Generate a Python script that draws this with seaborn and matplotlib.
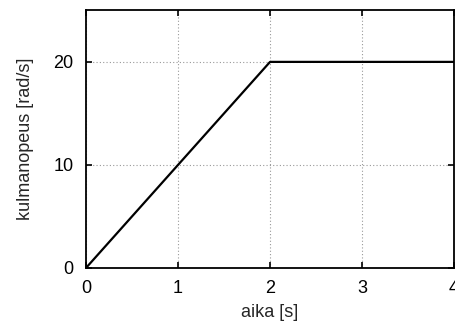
import pandas as pd
from matplotlib import pyplot as plt
import seaborn as sns

# data
aika = [0, 2, 4]
kulmanopeus = [0, 20, 20]
x_ticks = [0, 1, 2, 3, 4]
y_ticks = [0, 10, 20]

df = pd.DataFrame({"aika": aika, "kulmanopeus": kulmanopeus})

sns.set_style("ticks")
plt.rcParams['font.family'] = ['Liberation Sans', 'DejaVu Sans']

fig = plt.figure(figsize=(4.55, 3.24), dpi=100)
ax = fig.add_axes([0.189, 0.173, 0.809, 0.795])

sns.lineplot(x="aika", y="kulmanopeus", data=df, ax=ax, color="black", linewidth=1.6)

ax.set_xlim(0, 4)
ax.set_ylim(0, 25)
ax.set_xticks(x_ticks)
ax.set_yticks(y_ticks)
ax.grid(True, color="#999999", linestyle=(0, (1, 2)), linewidth=0.8)
ax.tick_params(direction="in", length=4, width=1.2, top=True, right=True,
               labelsize=13, colors="black")
ax.tick_params(axis="y", pad=9)
ax.tick_params(axis="x", pad=9)
for s in ax.spines.values():
    s.set_linewidth(1.3)
    s.set_color("black")

ax.set_xlabel("aika [s]", fontsize=13, labelpad=5)
ax.set_ylabel("kulmanopeus [rad/s]", fontsize=13, labelpad=14)

plt.savefig("out.png", dpi=100)
